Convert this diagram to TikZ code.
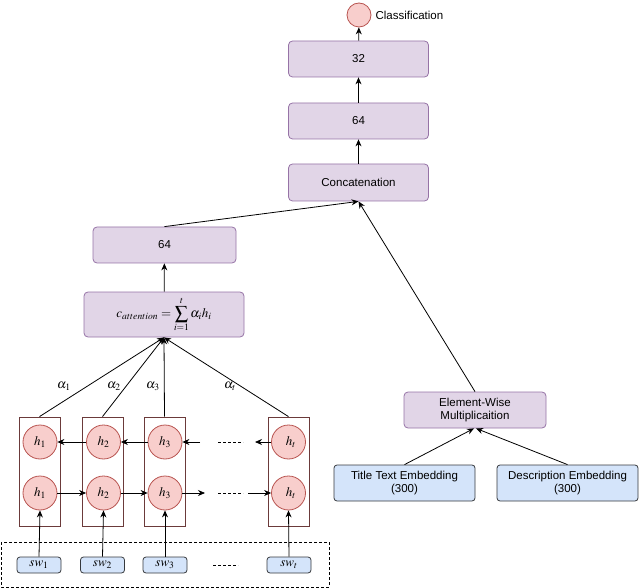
\documentclass[tikz,border=0pt]{standalone}
\usepackage{mathptmx}
\usepackage{fontspec}
\setmainfont{Liberation Sans}
\usetikzlibrary{arrows.meta}
\definecolor{pfill}{HTML}{E1D5E7}
\definecolor{pdraw}{HTML}{9673A6}
\definecolor{rfill}{HTML}{F8CECC}
\definecolor{rdraw}{HTML}{B85450}
\definecolor{bfill}{HTML}{D4E4FA}
\definecolor{bdraw}{HTML}{36393D}
\definecolor{brown}{HTML}{6B3A3A}
\tikzset{
  every node/.style={font=\fontsize{11.5}{13.5}\selectfont},
  mathlbl/.style={font=\fontsize{13}{15}\selectfont},
  pbox/.style={draw=pdraw, fill=pfill, rounded corners=4pt, line width=0.8pt, inner sep=0pt, align=center},
  bbox/.style={draw=bdraw, fill=bfill, rounded corners=3pt, line width=0.8pt, inner sep=0pt, align=center},
  hcirc/.style={circle, draw=rdraw, fill=rfill, line width=0.8pt, minimum size=34pt, inner sep=0pt, font=\fontsize{13}{15}\selectfont},
  rnnbox/.style={draw=brown, line width=0.8pt, minimum width=41pt, minimum height=109pt, inner sep=0pt},
  arr/.style={-{Stealth[length=7pt,width=6pt]}, line width=0.8pt},
  dots/.style={line width=0.8pt, dash pattern=on 3pt off 2pt},
}
\begin{document}
\begin{tikzpicture}[x=1pt,y=-1pt]
\useasboundingbox (0,0) rectangle (640,588);
% right column
\node[circle, draw=rdraw, fill=rfill, line width=0.8pt, minimum size=24pt, inner sep=0pt] (cls) at (359,15) {};
\node[anchor=west] (clstext) at (372,15) {Classification};
\node[pbox, minimum width=140pt, minimum height=36pt] (b32) at (358.5,59) {32};
\node[pbox, minimum width=140pt, minimum height=36pt] (b64a) at (358.5,121) {64};
\node[pbox, minimum width=140pt, minimum height=37pt] (concat) at (358.5,182.5) {Concatenation};
\node[pbox, minimum width=143pt, minimum height=36pt] (l64) at (164.5,245) {64};
\node[pbox, minimum width=160pt, minimum height=45pt, font=\fontsize{13}{15}\selectfont] (catt) at (164,314.5) {$\displaystyle c_{attention} = \sum_{i=1}^{t} \alpha_i h_i$};
\node[pbox, minimum width=142pt, minimum height=36pt] (elem) at (475,410) {Element-Wise\\Multiplicaition};
\node[bbox, minimum width=141pt, minimum height=36pt] (title) at (404.5,483) {Title Text Embedding\\(300)};
\node[bbox, minimum width=141pt, minimum height=36pt] (desc) at (567.5,483) {Description Embedding\\(300)};
% RNN boxes
\node[rnnbox] (r1) at (39.5,471.5) {};
\node[rnnbox] (r2) at (102.5,471.5) {};
\node[rnnbox] (r3) at (164.5,471.5) {};
\node[rnnbox] (rt) at (288.5,471.5) {};
% circles
\node[hcirc] (u1) at (40,442) {$h_1$};
\node[hcirc] (u2) at (103.5,442) {$h_2$};
\node[hcirc] (u3) at (165,442) {$h_3$};
\node[hcirc] (ut) at (288.5,442) {\hspace{5pt}$h_t$};
\node[hcirc] (d1) at (40,493) {$h_1$};
\node[hcirc] (d2) at (103.5,493) {$h_2$};
\node[hcirc] (d3) at (165,493) {$h_3$};
\node[hcirc] (dt) at (288.5,493) {\hspace{5pt}$h_t$};
% sw boxes
\node[bbox, minimum width=44pt, minimum height=16pt, mathlbl] (s1) at (39,565) {$sw_1$};
\node[bbox, minimum width=44pt, minimum height=16pt, mathlbl] (s2) at (102.5,565) {$sw_2$};
\node[bbox, minimum width=44pt, minimum height=16pt, mathlbl] (s3) at (165,565) {$sw_3$};
\node[bbox, minimum width=44pt, minimum height=16pt, mathlbl] (st) at (289,565) {$sw_t$};
\draw[dots] (1,542) rectangle (329,587);
\coordinate (sdA) at (213,565); \coordinate (sdB) at (238,565);
\draw[dots] (sdA) -- (sdB);
% right column arrows
\draw[arr] (b32) -- (cls);
\draw[arr] (b64a) -- (b32);
\draw[arr] (concat) -- (b64a);
\draw[arr] (l64.north) -- (concat.south);
\draw[arr] (elem.north) -- (concat.south);
\draw[arr] (catt) -- (l64);
\draw[arr] (title.north) -- ([xshift=-1pt]elem.south);
\draw[arr] (desc.north) -- ([xshift=1pt]elem.south);
% attention lines
\draw[arr] (r1.north) -- (catt.south);
\draw[arr] (r2.north) -- (catt.south);
\draw[arr] (r3.north) -- (catt.south);
\draw[arr] (rt.north) -- (catt.south);
\node[mathlbl] (a1) at (64,386) {$\alpha_1$};
\node[mathlbl] (a2) at (114,386) {$\alpha_2$};
\node[mathlbl] (a3) at (153,386) {$\alpha_3$};
\node[mathlbl] (at) at (230,386) {$\alpha_t$};
% sw to circles
\draw[arr] (s1.north) -- (d1.south);
\draw[arr] (s2.north) -- (d2.south);
\draw[arr] (s3.north) -- (d3.south);
\draw[arr] (st.north) -- (dt.south);
% forward
\coordinate (fA) at (205,493); \coordinate (fB) at (248,493);
\coordinate (fC) at (218,493); \coordinate (fD) at (243,493);
\draw[arr] (d1) -- (d2);
\draw[arr] (d2) -- (d3);
\draw[arr] (d3) -- (fA);
\draw[dots] (fC) -- (fD);
\draw[arr] (fB) -- (dt);
% backward
\coordinate (bA) at (200,442); \coordinate (bB) at (255,442);
\coordinate (bC) at (218,442); \coordinate (bD) at (243,442);
\draw[arr] (u2) -- (u1);
\draw[arr] (u3) -- (u2);
\draw[arr] (bA) -- (u3);
\draw[dots] (bC) -- (bD);
\draw[arr] (ut) -- (bB);
\end{tikzpicture}
\end{document}
